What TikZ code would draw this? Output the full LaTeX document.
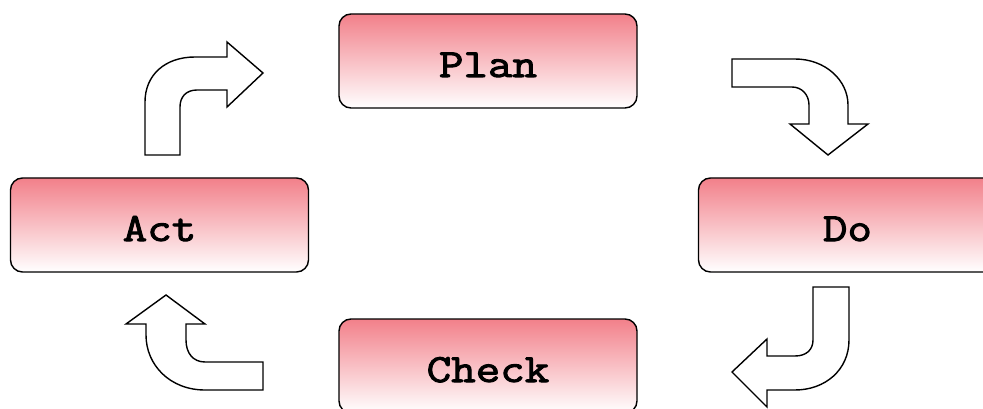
\documentclass[tikz,border=0pt]{standalone}
\usepackage{fontspec}
\newfontfamily\boxfont{Latin Modern Mono}[FakeBold=2.5,FakeStretch=1.19]
\usepackage{tikz}
\usetikzlibrary{arrows.meta}
\definecolor{pdcapink}{RGB}{242,128,138}

\begin{document}
\begin{tikzpicture}[x=1pt,y=-1pt]
			\tikzstyle{box}=[draw,line width=1.4pt,rounded corners=12pt,minimum width=298pt,minimum height=94pt,text height=36pt,text depth=4pt,top color=pdcapink,bottom color=white,font=\fontsize{40}{40}\selectfont\boxfont]
			\tikzstyle{turn}=[draw,line width=1.4pt,fill=white,line join=miter]
				\useasboundingbox (0,0) rectangle (983,409);
				\clip (0,0) rectangle (983,409);
				\node [box] (plan) at (488,61) {Plan};
				\node [box] (do) at (847.5,225) {Do};
				\node [box] (check) at (488,366) {Check};
				\node [box] (act) at (159.5,225) {Act};
				% act -> plan
				\draw [turn] (145,155) -- (145,102) .. controls (145,75) and (165,57) .. (195,57) -- (227,57) -- (227,42) -- (263,73) -- (227,107) -- (227,90) -- (197,90) .. controls (186,90) and (180,97) .. (180,107) -- (180,155) -- cycle;
				% plan -> do
				\draw [turn] (732,59) -- (795,59) .. controls (825,59) and (848,80) .. (848,105) -- (848,124) -- (868,124) -- (828,155) -- (790,124) -- (809,124) -- (809,105) .. controls (809,95) and (802,87) .. (792,87) -- (732,87) -- cycle;
				% do -> check
				\draw [turn] (813,287) -- (849,287) -- (849,340) .. controls (849,370) and (825,390) .. (795,390) -- (767,390) -- (767,407) -- (732,372) -- (767,339) -- (767,356) -- (795,356) .. controls (806,356) and (813,350) .. (813,340) -- cycle;
				% check -> act
				\draw [turn] (263,362) -- (263,390) -- (205,390) .. controls (170,390) and (146,365) .. (146,335) -- (146,324) -- (126,324) -- (166,295) -- (205,324) -- (186,324) -- (186,340) .. controls (186,353) and (193,362) .. (205,362) -- cycle;
	\end{tikzpicture}
\end{document}
